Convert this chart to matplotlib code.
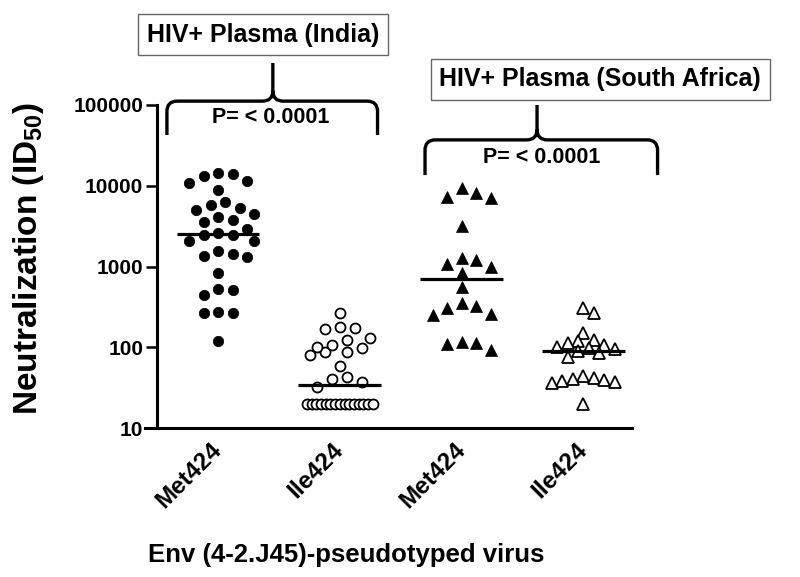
import numpy as np
import matplotlib
matplotlib.use("Agg")
import matplotlib.pyplot as plt
from matplotlib.path import Path
from matplotlib.patches import PathPatch
import matplotlib.transforms as mtransforms
from matplotlib.ticker import NullLocator

# ---------------- data ----------------
categories = ["Met424", "Ile424", "Met424", "Ile424"]
positions = [1, 2, 3, 4]

india_met = [14380, 13990, 13200, 11450, 10820, 8850, 6290, 5780, 5010, 5300,
             4470, 4100, 3770, 3560, 2910, 2440, 2470, 2600, 2060, 2080,
             1428, 1312, 1349, 1556, 831, 505, 444, 520, 262, 268, 273, 119]
india_ile = [265, 178, 168, 175, 123, 130, 87, 101, 99, 107, 80, 88, 59, 43, 37, 32, 40,
             20, 20, 20, 20, 20, 20, 20, 20, 20, 20, 20, 20, 20, 20, 20]
sa_met = [9380, 7260, 7050, 8130, 3175, 1274, 1074, 1203, 986, 840,
          560, 324, 250, 306, 353, 258, 113, 92, 111, 117]
sa_ile = [306, 265, 150, 123, 118, 113, 108, 102, 98, 95, 90, 84, 76,
          44, 42, 40.5, 39.5, 38.5, 37, 36, 20]

group_labels = ["HIV+ Plasma (India)", "HIV+ Plasma (South Africa)"]
p_labels = ["P= < 0.0001", "P= < 0.0001"]
y_ticks = [10, 100, 1000, 10000, 100000]
y_ticklabels = ["10", "100", "1000", "10000", "100000"]
y_label = r"Neutralization (ID$_{50}$)"
x_label = "Env (4-2.J45)-pseudotyped virus"

# ---------------- style ----------------
plt.rcParams["font.family"] = ["Liberation Sans", "DejaVu Sans"]
plt.rcParams["font.weight"] = "bold"
plt.rcParams["axes.labelweight"] = "bold"
plt.rcParams["mathtext.fontset"] = "custom"
plt.rcParams["mathtext.rm"] = "Liberation Sans:bold"
plt.rcParams["mathtext.bf"] = "Liberation Sans:bold"
plt.rcParams["mathtext.default"] = "rm"

fig = plt.figure(figsize=(8, 5.77), dpi=100)
ax = fig.add_axes([145 / 800, 149 / 577, 487 / 800, 323 / 577])
ax.set_yscale("log")
ax.set_ylim(10, 1e5)
ax.set_xlim(0.4, 4.4)
for s in ("top", "right"):
    ax.spines[s].set_visible(False)
ax.spines["left"].set_position(("data", 0.5))
ax.spines["left"].set_linewidth(2.2)
ax.spines["bottom"].set_linewidth(2.2)

ax.set_yticks(y_ticks)
ax.set_yticklabels(y_ticklabels)
ax.yaxis.set_minor_locator(NullLocator())
ax.tick_params(axis="y", length=8, width=1.8, direction="out", pad=2, labelsize=15)
ax.set_xticks(positions)
ax.set_xticklabels(categories, rotation=45, ha="right", va="center",
                   rotation_mode="anchor", fontsize=17.5)
ax.tick_params(axis="x", length=0, pad=13)

fig.canvas.draw()


def swarm(xc, vals, step, thresh, maxhalf):
    vals = np.asarray(vals, float)
    pts = ax.transData.transform(np.column_stack([np.full(len(vals), xc), vals]))
    cx = pts[0, 0]
    ys = pts[:, 1]
    offs = np.full(len(vals), np.nan)
    placed = []
    uniq, cnt = np.unique(vals, return_counts=True)
    for u, c in zip(uniq, cnt):
        if c >= 5:
            idx = np.where(vals == u)[0]
            sp = min(step, 2 * maxhalf / (c - 1))
            o = (np.arange(c) - (c - 1) / 2) * sp
            offs[idx] = o
            placed.extend(zip(o, ys[idx]))
    nmax = int(maxhalf // (step / 2))
    cands = [0.0] + [sg * k * step / 2 for k in range(1, nmax + 1) for sg in (1, -1)]
    for i in np.argsort(-vals, kind="stable"):
        if not np.isnan(offs[i]):
            continue
        best, bestc, bestd = None, 0.0, -1
        for c in cands:
            d = min((np.hypot(c - px, ys[i] - py) for px, py in placed), default=np.inf)
            if d >= thresh:
                best = c
                break
            if d > bestd:
                bestd, bestc = d, c
        if best is None:
            best = bestc
        offs[i] = best
        placed.append((best, ys[i]))
    disp = np.column_stack([cx + offs, ys])
    return ax.transData.inverted().transform(disp)[:, 0]


groups = [india_met, india_ile, sa_met, sa_ile]
styles = [
    dict(marker="o", ms=7.5, mfc="black", mec="black", mew=0.5),
    dict(marker="o", ms=7.2, mfc="white", mec="black", mew=1.3),
    dict(marker="^", ms=8.5, mfc="black", mec="black", mew=0.5),
    dict(marker="^", ms=8.0, mfc="white", mec="black", mew=1.3),
]
swarm_par = [(14.5, 13.0, 40), (15.0, 13.0, 33), (14.5, 13.0, 40), (10.5, 9.0, 36)]

for pos, vals, st, (step, th, mh) in zip(positions, groups, styles, swarm_par):
    xs = swarm(pos, vals, step, th, mh)
    ax.plot(xs, vals, linestyle="none", clip_on=False, zorder=3, **st)
    med = np.median(vals)
    ax.plot([pos - 0.34, pos + 0.34], [med, med], color="black", lw=2.3,
            solid_capstyle="butt", zorder=4)

# ---------------- braces, boxes, p-values ----------------
trans = mtransforms.blended_transform_factory(ax.transData, ax.transAxes)


def brace(x0, x1, xc, yb, yh, yt, rx=0.085, ry=0.032):
    verts = [(x0, yb), (x0, yh - ry), (x0, yh), (x0 + rx, yh), (xc - rx, yh),
             (xc, yh), (xc, yh + ry), (xc, yt),
             (x1, yb), (x1, yh - ry), (x1, yh), (x1 - rx, yh), (xc + rx, yh),
             (xc, yh), (xc, yh + ry)]
    codes = [Path.MOVETO, Path.LINETO, Path.CURVE3, Path.CURVE3, Path.LINETO,
             Path.CURVE3, Path.CURVE3, Path.LINETO,
             Path.MOVETO, Path.LINETO, Path.CURVE3, Path.CURVE3, Path.LINETO,
             Path.CURVE3, Path.CURVE3]
    patch = PathPatch(Path(verts, codes), fill=False, lw=2.4, ec="black",
                      transform=trans, clip_on=False, capstyle="butt", joinstyle="round")
    ax.add_patch(patch)


brace(0.58, 2.31, 1.45, 0.907, 1.012, 1.130)
brace(2.70, 4.61, 3.62, 0.783, 0.892, 1.000)

ax.text(1.43, 0.96, p_labels[0], transform=trans, ha="center", va="center", fontsize=15.5)
ax.text(3.66, 0.836, p_labels[1], transform=trans, ha="center", va="center", fontsize=15.5)

box = dict(boxstyle="square,pad=0.34", fc="white", ec="#666666", lw=1.0)
ax.text(1.37, 1.217, group_labels[0], transform=trans, ha="center", va="center",
        fontsize=18, bbox=box)
ax.text(4.14, 1.080, group_labels[1], transform=trans, ha="center", va="center",
        fontsize=18, bbox=box)

ax.set_ylabel(y_label, fontsize=24)
ax.yaxis.label.set_va("center")
ax.yaxis.set_label_coords(-0.24, 0.526)
ax.set_xlabel(x_label, fontsize=18.5)
ax.xaxis.label.set_va("center")
ax.xaxis.set_label_coords(0.413, -0.393)

fig.savefig("out.png", dpi=100)
